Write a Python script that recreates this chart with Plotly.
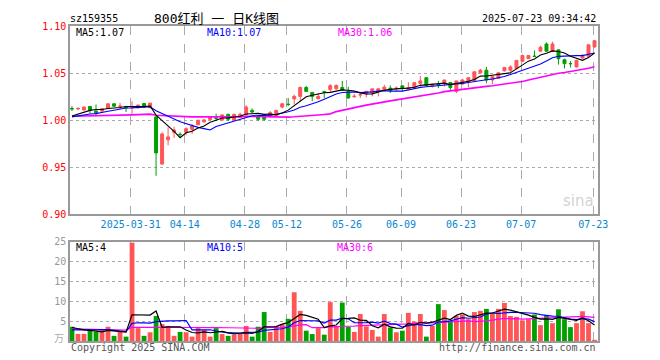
import plotly.graph_objects as go
import pandas as pd

# ---------------- data ----------------
holidays = ["2025-04-04", "2025-05-01", "2025-05-02", "2025-05-05", "2025-06-02"]
dates = [d.strftime("%Y-%m-%d") for d in pd.bdate_range("2025-03-17", "2025-07-23")
         if d.strftime("%Y-%m-%d") not in holidays]

open_ = [1.0124, 1.0120, 1.0108, 1.0146, 1.0097, 1.0097, 1.0125, 1.0174, 1.0146, 1.0146,
         1.0135, 1.0132, 1.0177, 1.0132, 1.0035, 0.9535, 0.9792, 0.9872, 0.9850, 0.9872,
         0.9903, 0.9951, 0.9983, 1.0007, 1.0024, 1.0003, 1.0062, 1.0003, 1.0028, 1.0056,
         1.0104, 1.0045, 1.0045, 1.0045, 1.0045, 1.0139, 1.0170, 1.0226, 1.0253, 1.0347,
         1.0295, 1.0229, 1.0302, 1.0326, 1.0333, 1.0347, 1.0306, 1.0250, 1.0268, 1.0278,
         1.0288, 1.0306, 1.0323, 1.0340, 1.0337, 1.0365, 1.0323, 1.0340, 1.0392, 1.0451,
         1.0358, 1.0378, 1.0392, 1.0399, 1.0306, 1.0385, 1.0406, 1.0420, 1.0503, 1.0531,
         1.0427, 1.0444, 1.0524, 1.0531, 1.0548, 1.0625, 1.0653, 1.0680, 1.0733, 1.0809,
         1.0733, 1.0747, 1.0642, 1.0602, 1.0566, 1.0660, 1.0680, 1.0778]
high = [1.0149, 1.0139, 1.0146, 1.0149, 1.0167, 1.0128, 1.0178, 1.0178, 1.0184, 1.0150,
        1.0201, 1.0167, 1.0180, 1.0184, 1.0042, 0.9872, 0.9924, 0.9931, 0.9872, 0.9924,
        0.9958, 1.0000, 1.0010, 1.0042, 1.0069, 1.0062, 1.0069, 1.0069, 1.0080, 1.0160,
        1.0125, 1.0049, 1.0049, 1.0097, 1.0111, 1.0184, 1.0236, 1.0271, 1.0358, 1.0365,
        1.0299, 1.0288, 1.0313, 1.0385, 1.0382, 1.0417, 1.0354, 1.0278, 1.0295, 1.0313,
        1.0333, 1.0340, 1.0375, 1.0368, 1.0358, 1.0365, 1.0403, 1.0399, 1.0469, 1.0451,
        1.0382, 1.0417, 1.0427, 1.0399, 1.0417, 1.0440, 1.0458, 1.0514, 1.0545, 1.0566,
        1.0472, 1.0510, 1.0566, 1.0583, 1.0635, 1.0698, 1.0690, 1.0740, 1.0792, 1.0826,
        1.0833, 1.0747, 1.0653, 1.0628, 1.0642, 1.0700, 1.0805, 1.0850]
low = [1.0097, 1.0108, 1.0105, 1.0069, 1.0045, 1.0090, 1.0122, 1.0146, 1.0115, 1.0087,
       1.0063, 1.0125, 1.0135, 1.0128, 0.9410, 0.9524, 0.9733, 0.9813, 0.9813, 0.9840,
       0.9854, 0.9948, 0.9976, 1.0000, 0.9993, 0.9997, 0.9993, 0.9997, 1.0021, 1.0052,
       1.0073, 0.9993, 0.9993, 1.0028, 1.0042, 1.0125, 1.0149, 1.0167, 1.0201, 1.0299,
       1.0201, 1.0219, 1.0236, 1.0300, 1.0323, 1.0320, 1.0229, 1.0236, 1.0236, 1.0243,
       1.0253, 1.0253, 1.0306, 1.0288, 1.0306, 1.0306, 1.0320, 1.0333, 1.0358, 1.0358,
       1.0347, 1.0340, 1.0358, 1.0316, 1.0288, 1.0375, 1.0350, 1.0410, 1.0500, 1.0392,
       1.0385, 1.0440, 1.0517, 1.0514, 1.0545, 1.0618, 1.0650, 1.0670, 1.0726, 1.0726,
       1.0726, 1.0590, 1.0549, 1.0559, 1.0559, 1.0653, 1.0670, 1.0770]
close = [1.0120, 1.0124, 1.0139, 1.0108, 1.0076, 1.0122, 1.0174, 1.0149, 1.0150, 1.0132,
         1.0139, 1.0160, 1.0139, 1.0181, 0.9653, 0.9854, 0.9823, 0.9896, 0.9847, 0.9910,
         0.9938, 1.0000, 1.0003, 1.0035, 1.0021, 1.0056, 1.0010, 1.0062, 1.0062, 1.0139,
         1.0087, 1.0010, 1.0010, 1.0080, 1.0104, 1.0174, 1.0167, 1.0253, 1.0347, 1.0306,
         1.0253, 1.0253, 1.0299, 1.0366, 1.0368, 1.0323, 1.0236, 1.0254, 1.0271, 1.0306,
         1.0333, 1.0333, 1.0351, 1.0316, 1.0340, 1.0347, 1.0347, 1.0399, 1.0417, 1.0368,
         1.0382, 1.0375, 1.0427, 1.0347, 1.0417, 1.0427, 1.0451, 1.0514, 1.0531, 1.0427,
         1.0462, 1.0503, 1.0559, 1.0566, 1.0635, 1.0687, 1.0687, 1.0677, 1.0774, 1.0733,
         1.0809, 1.0653, 1.0600, 1.0600, 1.0635, 1.0688, 1.0800, 1.0844]
volume = [3.6, 1.8, 1.8, 2.8, 2.3, 2.8, 3.6, 1.3, 2.3, 1.1,
          24.8, 3.25, 1.3, 2.2, 6.3, 4.25, 3.8, 1.3, 2.3, 2.2,
          1.1, 3.25, 2.75, 1.1, 3.25, 1.75, 1.3, 1.6, 1.9, 3.8,
          1.1, 3.6, 7.3, 2.3, 3.8, 4.25, 5.6, 12.3, 7.6, 2.6,
          1.75, 3.25, 1.6, 9.8, 3.8, 9.7, 3.6, 2.3, 6.8, 3.7,
          2.8, 1.1, 6.8, 3.4, 2.2, 2.6, 7.1, 4.9, 6.8, 1.1,
          3.8, 9.3, 7.8, 5.1, 6.3, 6.75, 5.5, 7.3, 7.6, 8.1,
          6.8, 8.1, 9.6, 6.3, 6.1, 5.2, 5.5, 6.7, 4.0, 6.5,
          4.5, 8.0, 5.5, 3.5, 4.5, 7.5, 4.5, 0.3]

# estimated sessions before the visible window (only feed the moving averages)
prior_close = [1.010, 1.009, 1.011, 1.008, 1.007, 1.009, 1.010, 1.008, 1.007, 1.009,
               1.008, 1.008, 1.007, 1.000, 0.997, 0.995, 0.994, 0.996, 0.998, 0.999,
               1.001, 1.002, 1.003, 1.004, 1.003, 1.002, 1.003, 1.002, 1.003]
prior_volume = [3.1, 3.7, 2.9, 3.4, 2.5, 4.2, 2.8, 3.3, 3.0, 3.6,
                2.7, 3.9, 3.2, 2.4, 3.5, 2.9, 3.3, 3.1, 3.8, 2.6,
                2.0, 2.6, 2.4, 1.9, 2.2, 3.4, 3.1, 3.6, 3.3]

tick_dates = ["2025-03-31", "2025-04-14", "2025-04-28", "2025-05-12", "2025-05-26",
              "2025-06-09", "2025-06-23", "2025-07-07", "2025-07-23"]
tick_text = ["2025-03-31", "04-14", "04-28", "05-12", "05-26", "06-09", "06-23", "07-07", "07-23"]

code = "sz159355"
title = "800红利 一 日K线图"
stamp = "2025-07-23 09:34:42"

# ---------------- derived ----------------
n = len(dates)
idx = list(range(n))
cs = pd.Series(prior_close + close)
vs = pd.Series(prior_volume + volume)
k = len(prior_close)
ma5 = cs.rolling(5).mean().iloc[k:].tolist()
ma10 = cs.rolling(10).mean().iloc[k:].tolist()
ma30 = cs.rolling(30).mean().iloc[k:].tolist()
vma5 = vs.rolling(5).mean().iloc[k:].tolist()
vma10 = vs.rolling(10).mean().iloc[k:].tolist()
vma30 = vs.rolling(30).mean().iloc[k:].tolist()

RED = "#ff5555"
GREEN = "#00a000"
vcolors = [RED if c >= o else GREEN for o, c in zip(open_, close)]
tickvals = [dates.index(d) - 0.22 for d in tick_dates]

MONO = "DejaVu Sans Mono, Liberation Mono, monospace"

fig = go.Figure()
fig.add_trace(go.Candlestick(
    x=idx, open=open_, high=high, low=low, close=close,
    increasing=dict(line=dict(color=RED, width=1), fillcolor=RED),
    decreasing=dict(line=dict(color=GREEN, width=1), fillcolor=GREEN),
    whiskerwidth=0, xaxis="x", yaxis="y", hoverinfo="skip"))
for ser, col, w in [(ma30, "#ff00ff", 1.6), (ma10, "#0000ff", 1.1), (ma5, "#000000", 1.1)]:
    fig.add_trace(go.Scatter(x=idx, y=ser, mode="lines", line=dict(color=col, width=w),
                             xaxis="x", yaxis="y", hoverinfo="skip"))
fig.add_trace(go.Bar(x=idx, y=volume, marker=dict(color=vcolors, line=dict(width=0)),
                     width=0.8, xaxis="x2", yaxis="y2", hoverinfo="skip"))
for ser, col in [(vma30, "#ff00ff"), (vma10, "#0000ff"), (vma5, "#000000")]:
    fig.add_trace(go.Scatter(x=idx, y=ser, mode="lines", line=dict(color=col, width=1.2),
                             xaxis="x2", yaxis="y2", hoverinfo="skip"))

# page body has an 8px margin: size the figure so the plot lands at page pixels
OFF = 8
W, H = 660 - OFF, 360 - OFF
PL, PR, PT, PB = 70, 598, 20, 341          # plot box in page pixels
L, T = PL - OFF, PT - OFF
R = W - (PR - OFF)
B = H - (PB - OFF)
pw, ph = W - L - R, H - T - B


def px(x):
    return (x - PL) / pw


def py(y):
    return 1 - (y - PT) / ph


xr = [-0.33, n - 0.42]
axis_common = dict(showline=True, mirror=True, linecolor="#999999", linewidth=1.5,
                   zeroline=False, fixedrange=True)
fig.update_layout(
    width=W, height=H, margin=dict(l=L, r=R, t=T, b=B),
    paper_bgcolor="white", plot_bgcolor="white", showlegend=False,
    font=dict(family=MONO, size=10, color="#000"),
    xaxis=dict(domain=[0, 1], range=xr, anchor="y", tickvals=tickvals, ticktext=tick_text,
               showgrid=True, gridcolor="#aaaaaa", griddash="dash", gridwidth=1,
               tickfont=dict(color="#0a86cf", size=10, family=MONO), ticks="",
               rangeslider=dict(visible=False), **axis_common),
    yaxis=dict(domain=[py(212), 1], range=[0.90, 1.10], anchor="x",
               tickvals=[0.90, 0.95, 1.00, 1.05, 1.10], tickformat=".2f",
               showgrid=True, gridcolor="#aaaaaa", griddash="dot", gridwidth=1,
               tickfont=dict(color="#ff0000", size=10, family=MONO), ticks="",
               **axis_common),
    xaxis2=dict(domain=[0, 1], range=xr, anchor="y2", tickvals=tickvals, showticklabels=False,
                showgrid=True, gridcolor="#aaaaaa", griddash="dash", gridwidth=1, ticks="",
                matches="x", **axis_common),
    yaxis2=dict(domain=[0, py(240)], range=[0, 25], anchor="x2",
                tickvals=[5, 10, 15, 20, 25],
                showgrid=True, gridcolor="#aaaaaa", griddash="dot", gridwidth=1,
                tickfont=dict(color="#999999", size=10, family=MONO), ticks="",
                **axis_common),
)

ann = []


def add(text, x, y, color="#000", xanchor="left", size=10, family=MONO, **kw):
    ann.append(dict(text=text, x=px(x), y=py(y), xref="paper", yref="paper",
                    xanchor=xanchor, yanchor="middle", showarrow=False,
                    font=dict(color=color, size=size, family=family), **kw))


add(code, 68, 12)
add(title, 152, 12, size=13, family="DejaVu Sans Mono, Noto Sans CJK SC")
add(stamp, 598, 12, xanchor="right")
add(f"MA5:{ma5[-1]:.2f}", 74, 27)
add(f"MA10:{ma10[-1]:.2f}", 205, 27, color="#0000ff")
add(f"MA30:{ma30[-1]:.2f}", 336, 27, color="#ff00ff")
add(f"MA5:{vma5[-1]:.0f}", 74, 246)
add(f"MA10:{vma10[-1]:.0f}", 205, 246, color="#0000ff")
add(f"MA30:{vma30[-1]:.0f}", 335, 246, color="#ff00ff")
add("万", 66, 337, color="#aaaaaa", xanchor="right", family="Noto Sans CJK SC")
add("Copyright 2025 SINA.COM", 69, 348, color="#555555")
add("http://finance.sina.com.cn", 598, 348, color="#555555", xanchor="right")
add("sina", 596, 198, color="rgba(190,190,190,0.7)", xanchor="right", size=15,
    family="DejaVu Sans")
fig.update_layout(annotations=ann)

fig.write_html("out.html")
